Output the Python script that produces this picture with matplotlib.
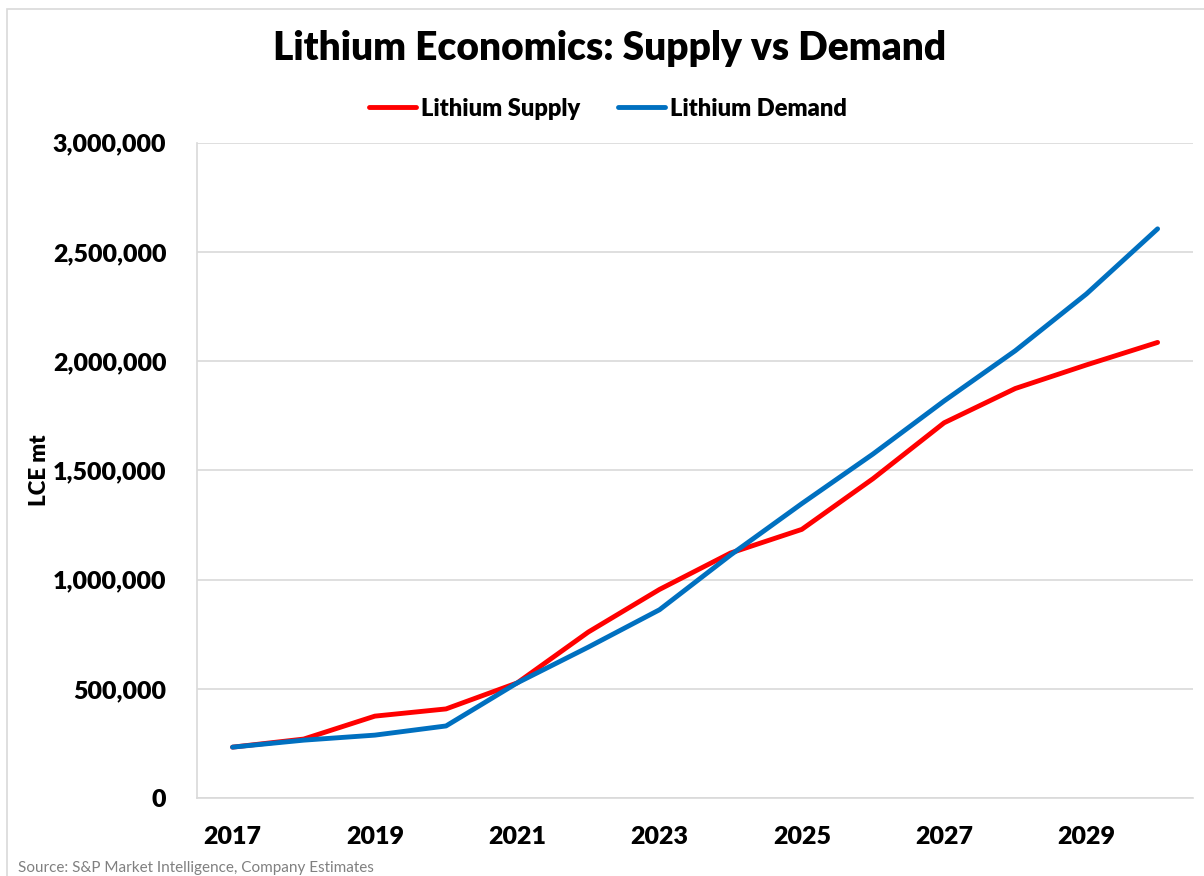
import matplotlib.pyplot as plt
from matplotlib.ticker import FuncFormatter
from matplotlib.patches import Rectangle

plt.rcParams['font.family'] = ['Lato', 'DejaVu Sans']
plt.rcParams['font.weight'] = 'heavy'

years = list(range(2017, 2031))
supply = [233000, 270000, 375000, 408000, 527000, 760000, 955000,
          1122000, 1230000, 1462000, 1718000, 1875000, 1983000, 2086000]
demand = [233000, 265000, 288000, 330000, 527000, 691000, 862000,
          1113000, 1348000, 1575000, 1818000, 2048000, 2308000, 2606000]
xticks = [2017, 2019, 2021, 2023, 2025, 2027, 2029]

fig = plt.figure(figsize=(12.04, 8.76), dpi=100)
ax = fig.add_axes([0.1636, 0.089, 0.8274, 0.748])

ax.plot(years, supply, color='#ff0000', lw=3.5, label='Lithium Supply', solid_capstyle='round')
ax.plot(years, demand, color='#0070c0', lw=3.5, label='Lithium Demand', solid_capstyle='round')

ax.set_xlim(2016.5, 2030.5)
ax.set_ylim(0, 3000000)
ax.set_xticks(xticks)
ax.set_yticks(range(0, 3000001, 500000))
ax.yaxis.set_major_formatter(FuncFormatter(lambda v, p: f'{int(v):,}'))
ax.tick_params(axis='y', length=0, labelsize=18, pad=22)
ax.tick_params(axis='x', length=0, labelsize=18, pad=20)
for lab in ax.get_xticklabels() + ax.get_yticklabels():
    lab.set_fontweight('heavy')

ax.grid(axis='y', color='#d9d9d9', lw=1.2)
ax.set_axisbelow(True)
for s in ['top', 'right']:
    ax.spines[s].set_visible(False)
for s in ['left', 'bottom']:
    ax.spines[s].set_color('#d9d9d9')
    ax.spines[s].set_linewidth(1.2)

ax.set_ylabel('LCE mt', fontsize=16, fontweight='heavy', labelpad=2)

fig.text(0.506, 0.945, 'Lithium Economics: Supply vs Demand', ha='center', va='center',
         fontsize=28, fontweight='heavy')
fig.legend(loc='center', bbox_to_anchor=(0.505, 0.876), ncol=2, frameon=False,
           prop={'size': 17, 'weight': 'heavy'}, handlelength=2.0, handletextpad=0.2,
           columnspacing=1.6)

fig.text(0.015, 0.001, 'Source: S&P Market Intelligence, Company Estimates',
         fontsize=11, color='#808080', ha='left', va='bottom', fontweight='normal')

fig.patches.append(Rectangle((0.006, -0.01), 1.1, 1.0, transform=fig.transFigure,
                             fill=False, edgecolor='#d9d9d9', lw=1.2))

fig.savefig('out.png', dpi=100)
